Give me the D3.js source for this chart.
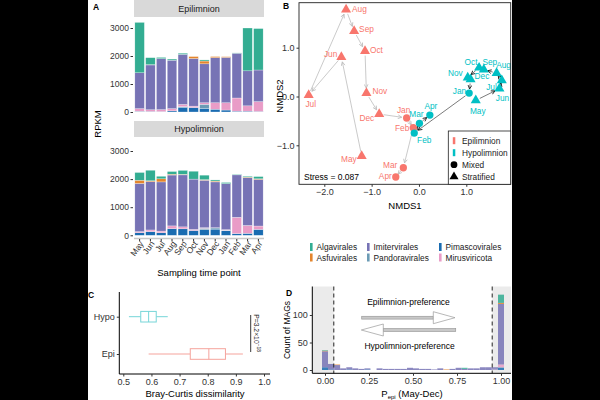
<!DOCTYPE html>
<html>
<head>
<meta charset="utf-8">
<script src="https://cdn.jsdelivr.net/npm/d3@7"></script>
<style>
  body { margin: 0; background: #000; }
  svg { display: block; font-family: "Liberation Sans", Arial, sans-serif; }
</style>
</head>
<body>
<svg id="fig" width="600" height="400"></svg>
<script>
// ---- data ----
const months = ["May", "Jun", "Jul", "Aug", "Sep", "Oct", "Nov", "Dec", "Jan", "Feb", "Mar", "Apr"];
const orders = ["Algavirales", "Asfuvirales", "Imitervirales", "Pandoravirales", "Pimascovirales", "Mirusviricota"];
// stacking order, bottom to top
const stackOrder = ["Pimascovirales", "Pandoravirales", "Mirusviricota", "Imitervirales", "Asfuvirales", "Algavirales"];

// RPKM, Epilimnion
const epiPimasco = [20, 20, 15, 40, 170, 160, 130, 100, 70, 30, 30, 20];
const epiPandora = [10, 0, 0, 0, 20, 0, 145, 0, 0, 0, 0, 0];
const epiMiru = [90, 60, 70, 80, 80, 50, 55, 230, 260, 470, 190, 350];
const epiImiter = [1280, 1600, 1820, 1730, 1790, 1700, 1390, 1610, 1620, 1600, 1250, 1130];
const epiAsfu = [0, 10, 0, 0, 0, 70, 100, 40, 25, 0, 0, 0];
const epiAlga = [1800, 250, 45, 40, 40, 0, 40, 0, 0, 10, 1530, 1480];
// RPKM, Hypolimnion
const hypoPimasco = [90, 130, 90, 235, 230, 170, 200, 220, 160, 60, 70, 210];
const hypoPandora = [0, 0, 0, 0, 0, 0, 50, 40, 20, 0, 0, 0];
const hypoMiru = [40, 60, 60, 100, 70, 40, 20, 10, 20, 580, 280, 120];
const hypoImiter = [1715, 1720, 1750, 1810, 1850, 1790, 1690, 1630, 1640, 1510, 1700, 1660];
const hypoAsfu = [115, 30, 110, 30, 20, 0, 20, 30, 0, 0, 20, 20];
const hypoAlga = [275, 375, 90, 95, 140, 280, 160, 40, 40, 20, 30, 80];

// NMDS coordinates (months in same order)
const epiNmds1 = [-1.21, -1.64, -2.33, -1.54, -1.37, -1.14, -1.11, -0.84, -0.26, -0.12, -0.33, -0.49];
const epiNmds2 = [-1.22, 0.81, 0.03, 1.78, 1.34, 0.93, 0.07, -0.36, -0.44, -0.64, -1.46, -1.65];
const hypoNmds1 = [1.20, 1.70, 1.75, 1.64, 1.37, 1.27, 1.03, 1.09, 1.06, -0.10, 0.01, 0.23];
const hypoNmds2 = [-0.08, 0.16, 0.33, 0.48, 0.55, 0.59, 0.39, 0.35, 0.07, -0.75, -0.55, -0.38];
const mixedMonths = ["Jan", "Feb", "Mar", "Apr"];
const stress = 0.087;

// Bray-Curtis boxplots: whisker low, q1, median, q3, whisker high
const layers = ["Hypo", "Epi"];
const brayHypo = [0.52, 0.562, 0.59, 0.617, 0.658];
const brayEpi = [0.59, 0.738, 0.804, 0.863, 0.925];
const pLabel = "P=3.2×10";
const pExp = "−18";

// P_epi histogram (30 bins), counts of MAGs per order
const binCenters = [0.000, 0.034, 0.069, 0.103, 0.138, 0.172, 0.207, 0.241, 0.276, 0.310,
  0.345, 0.379, 0.414, 0.448, 0.483, 0.517, 0.552, 0.586, 0.621, 0.655,
  0.690, 0.724, 0.759, 0.793, 0.828, 0.862, 0.897, 0.931, 0.966, 1.000];
const histPimasco = [5, 1, 0, 0, 1, 0, 0, 1, 0, 0, 0, 0, 0, 0, 0, 0, 0, 0, 0, 0, 0, 0, 0, 0, 0, 0, 0, 0, 1, 4];
const histPandora = [0, 0, 0, 0, 0, 0, 0, 0, 0, 0, 0, 0, 0, 0, 0, 0, 0, 0, 0, 0, 0, 0, 0, 0, 0, 0, 0, 0, 0, 1];
const histMiru = [0, 0, 0, 0, 0, 0, 0, 0, 0, 0, 0, 0, 0, 0, 0, 0, 0, 0, 0, 0, 0, 0, 0, 0, 0, 0, 0, 0, 1, 5];
const histImiter = [29, 10, 9, 3, 4, 3, 2, 2, 0, 3, 2, 2, 2, 2, 4, 3, 2, 2, 1, 3, 0, 2, 4, 2, 3, 3, 5, 5, 3, 110];
const histAsfu = [1, 0, 1, 0, 0, 0, 0, 0, 0, 0, 0, 0, 0, 0, 0, 0, 0, 0, 0, 0, 1, 0, 0, 0, 0, 0, 0, 0, 0, 2];
const histAlga = [1, 0, 0, 0, 0, 0, 0, 0, 0, 0, 0, 0, 0, 0, 0, 0, 0, 0, 0, 0, 0, 0, 0, 2, 0, 0, 0, 0, 0, 15];
const prefCut = [0.05, 0.95];

// ---- styles ----
const orderColor = {
  Algavirales: "#33ad92", Asfuvirales: "#e4852c", Imitervirales: "#7773b5",
  Pandoravirales: "#6b9bb5", Pimascovirales: "#1a6cb1", Mirusviricota: "#e99cc7"
};
const EPI = "#f8766d", HYPO = "#00bfc4";
const txt = "#333";

const svg = d3.select("#fig");
svg.append("rect").attr("x", 88).attr("y", 0).attr("width", 424).attr("height", 400).attr("fill", "#fff");

function panelLabel(t, x, y) {
  svg.append("text").attr("x", x).attr("y", y).text(t)
    .attr("font-size", 8.5).attr("font-weight", "bold").attr("fill", "#000");
}
function styleAxis(g, size) {
  g.selectAll("text").attr("fill", txt).attr("font-size", size || 9).attr("font-family", "Liberation Sans, Arial, sans-serif");
  g.selectAll("line").attr("stroke", txt);
}

// ================= A =================
panelLabel("A", 93, 10);
const xA = d3.scaleBand().domain(months).range([134, 264]).paddingInner(0.12).paddingOuter(0.08);
const facets = [
  { name: "Epilimnion", strip: [0, 17], y: d3.scaleLinear().domain([0, 3000]).range([112, 28]),
    vals: { Pimascovirales: epiPimasco, Pandoravirales: epiPandora, Mirusviricota: epiMiru,
      Imitervirales: epiImiter, Asfuvirales: epiAsfu, Algavirales: epiAlga } },
  { name: "Hypolimnion", strip: [121, 137], y: d3.scaleLinear().domain([0, 3000]).range([235.3, 151]),
    vals: { Pimascovirales: hypoPimasco, Pandoravirales: hypoPandora, Mirusviricota: hypoMiru,
      Imitervirales: hypoImiter, Asfuvirales: hypoAsfu, Algavirales: hypoAlga } }
];
facets.forEach((f, fi) => {
  svg.append("rect").attr("x", 134).attr("y", f.strip[0]).attr("width", 130)
    .attr("height", f.strip[1] - f.strip[0]).attr("fill", "#d9d9d9");
  svg.append("text").attr("x", 199).attr("y", (f.strip[0] + f.strip[1]) / 2 + 3.3)
    .attr("text-anchor", "middle").attr("font-size", 9).attr("fill", "#1a1a1a").text(f.name);

  const rows = months.map((m, i) => {
    const r = { month: m };
    stackOrder.forEach(o => r[o] = f.vals[o][i]);
    return r;
  });
  const series = d3.stack().keys(stackOrder)(rows);
  svg.append("g").selectAll("g").data(series).join("g")
    .attr("fill", d => orderColor[d.key])
    .selectAll("rect").data(d => d).join("rect")
    .attr("x", d => xA(d.data.month)).attr("width", xA.bandwidth())
    .attr("y", d => f.y(d[1])).attr("height", d => f.y(d[0]) - f.y(d[1]))
    .attr("stroke", "#fff").attr("stroke-width", 0.4).attr("stroke-opacity", 0.7);

  const ay = svg.append("g").attr("transform", "translate(133,0)")
    .call(d3.axisLeft(f.y).tickValues([0, 1000, 2000, 3000]).tickFormat(d3.format("d")).tickSize(2.5).tickPadding(1.5));
  ay.select(".domain").remove();
  styleAxis(ay, 8.5);

  if (fi === 1) {
    svg.append("line").attr("x1", 134).attr("x2", 264).attr("y1", 238.5).attr("y2", 238.5)
      .attr("stroke", "#c8c8c8").attr("stroke-width", 1.5);
    const ax = svg.append("g").attr("transform", "translate(0,239)")
      .call(d3.axisBottom(xA).tickSize(2.5).tickPadding(2));
    ax.select(".domain").remove();
    styleAxis(ax, 8.5);
    ax.selectAll("text").attr("text-anchor", "end")
      .attr("transform", "translate(2,3) rotate(-55)").attr("dy", "0.35em").attr("y", 0).attr("x", 0);
  }
});
svg.append("text").attr("x", 199).attr("y", 276).attr("text-anchor", "middle")
  .attr("font-size", 9.5).attr("fill", "#000").text("Sampling time point");
svg.append("text").attr("transform", "translate(101,124) rotate(-90)").attr("text-anchor", "middle")
  .attr("font-size", 9.5).attr("fill", "#000").text("RPKM");

// order legend
const legPos = [[310, 247], [310, 257.5], [367, 247], [367, 257.5], [439, 247], [439, 257.5]];
orders.forEach((o, i) => {
  const [lx, ly] = legPos[i];
  svg.append("rect").attr("x", lx).attr("y", ly - 4).attr("width", 2.6).attr("height", 8).attr("fill", orderColor[o]);
  svg.append("text").attr("x", lx + 6.5).attr("y", ly + 3).attr("font-size", 8.3).attr("fill", "#1a1a1a").text(o);
});

// ================= B =================
panelLabel("B", 283, 9);
const xB = d3.scaleLinear().domain([-2, 1]).range([324.3, 466.3]);
const yB = d3.scaleLinear().domain([-1, 1]).range([145.3, 47.7]);
const bL = 299, bR = 510.7, bT = 2.7, bBt = 184.3;

const defs = svg.append("defs");
[["arrGrey", "#bdbdbd"], ["arrBlack", "#111"]].forEach(([id, c]) => {
  defs.append("marker").attr("id", id).attr("viewBox", "0 0 8 8").attr("refX", 7).attr("refY", 4)
    .attr("markerWidth", 5).attr("markerHeight", 5).attr("markerUnits", "userSpaceOnUse").attr("orient", "auto")
    .append("path").attr("d", "M1,1 L7,4 L1,7").attr("fill", "none").attr("stroke", c).attr("stroke-width", 1.3);
});

const groups = [
  { name: "Epilimnion", col: EPI, xs: epiNmds1, ys: epiNmds2, arr: "arrGrey", lc: "#c4c4c4", lw: 0.9 },
  { name: "Hypolimnion", col: HYPO, xs: hypoNmds1, ys: hypoNmds2, arr: "arrBlack", lc: "#222", lw: 0.6 }
];
// label placement: [dx, dy, anchor]
const labelOff = {
  Epilimnion: {
    May: [-5, 3, "end"], Jun: [-4, -3, "end"], Jul: [2, 9, "middle"], Aug: [6, -1, "start"],
    Sep: [5, -2, "start"], Oct: [5, -1, "start"], Nov: [6, -2, "start"], Dec: [-5, 4, "end"],
    Jan: [-3, -8, "middle"], Feb: [-4, 0, "end"], Mar: [-6, -3, "end"], Apr: [-4, -1, "end"]
  },
  Hypolimnion: {
    May: [2, 11, "middle"], Jun: [3, 9, "middle"], Jul: [-5, 7, "end"], Aug: [7, -8, "middle"],
    Sep: [6, -8, "middle"], Oct: [-8, -6, "middle"], Nov: [-5, -4, "end"], Dec: [4, -3, "start"],
    Jan: [-3, -2, "end"], Feb: [10, 7, "middle"], Mar: [-3, -9, "middle"], Apr: [1, -9, "middle"]
  }
};

const gB = svg.append("g");
groups.forEach(g => {
  for (let i = 0; i < months.length - 1; i++) {
    const x1 = xB(g.xs[i]), y1 = yB(g.ys[i]), x2 = xB(g.xs[i + 1]), y2 = yB(g.ys[i + 1]);
    const len = Math.hypot(x2 - x1, y2 - y1);
    const s = Math.min(4.5, len * 0.3), e = Math.min(5, len * 0.3);
    const ux = (x2 - x1) / len, uy = (y2 - y1) / len;
    gB.append("line").attr("x1", x1 + ux * s).attr("y1", y1 + uy * s)
      .attr("x2", x2 - ux * e).attr("y2", y2 - uy * e)
      .attr("stroke", g.lc).attr("stroke-width", g.lw).attr("marker-end", `url(#${g.arr})`);
  }
});
groups.forEach(g => {
  months.forEach((m, i) => {
    const mixed = mixedMonths.includes(m);
    gB.append("path").attr("transform", `translate(${xB(g.xs[i])},${yB(g.ys[i])})`)
      .attr("d", d3.symbol(mixed ? d3.symbolCircle : d3.symbolTriangle, mixed ? 42 : 44)())
      .attr("fill", g.col);
  });
  months.forEach((m, i) => {
    const [dx, dy, anc] = labelOff[g.name][m];
    gB.append("text").attr("x", xB(g.xs[i]) + dx).attr("y", yB(g.ys[i]) + dy + 3)
      .attr("text-anchor", anc).attr("font-size", 8.3).attr("fill", g.col).text(m);
  });
});
svg.append("rect").attr("x", bL).attr("y", bT).attr("width", bR - bL).attr("height", bBt - bT)
  .attr("fill", "none").attr("stroke", "#222").attr("stroke-width", 0.9);
const bxAx = svg.append("g").attr("transform", `translate(0,${bBt})`)
  .call(d3.axisBottom(xB).tickValues([-2, -1, 0, 1]).tickSize(2.5).tickPadding(2));
bxAx.select(".domain").remove(); styleAxis(bxAx, 9);
const byAx = svg.append("g").attr("transform", `translate(${bL},0)`)
  .call(d3.axisLeft(yB).tickValues([-1, 0, 1]).tickSize(2.5).tickPadding(2));
byAx.select(".domain").remove(); styleAxis(byAx, 9);
svg.append("text").attr("x", 405).attr("y", 209).attr("text-anchor", "middle").attr("font-size", 9.5).text("NMDS1");
svg.append("text").attr("transform", "translate(283,96) rotate(-90)").attr("text-anchor", "middle")
  .attr("font-size", 9.5).text("NMDS2");
svg.append("text").attr("x", 304).attr("y", 180).attr("font-size", 8.5).attr("fill", "#000")
  .text("Stress = " + stress.toFixed(3));

// B legend
svg.append("rect").attr("x", 448.3).attr("y", 131).attr("width", bR - 448.3).attr("height", bBt - 131)
  .attr("fill", "#fff").attr("stroke", "#222").attr("stroke-width", 0.8);
const bLeg = [
  { t: "Epilimnion", k: "bar", c: EPI }, { t: "Hypolimnion", k: "bar", c: HYPO },
  { t: "Mixed", k: "circle", c: "#000" }, { t: "Stratified", k: "tri", c: "#000" }
];
bLeg.forEach((d, i) => {
  const ly = 140.7 + i * 12;
  if (d.k === "bar") svg.append("rect").attr("x", 452.8).attr("y", ly - 3.5).attr("width", 2.5).attr("height", 7).attr("fill", d.c);
  else svg.append("path").attr("transform", `translate(454,${ly})`)
    .attr("d", d3.symbol(d.k === "circle" ? d3.symbolCircle : d3.symbolTriangle, 36)()).attr("fill", d.c);
  svg.append("text").attr("x", 462).attr("y", ly + 3).attr("font-size", 8.3).attr("fill", "#1a1a1a").text(d.t);
});

// ================= C =================
panelLabel("C", 88, 298);
const xC = d3.scaleLinear().domain([0.5, 1.0]).range([123.3, 264]);
const yC = d3.scalePoint().domain(layers).range([316.7, 354]);
const boxes = [{ k: "Hypo", v: brayHypo, c: "#76d5d8" }, { k: "Epi", v: brayEpi, c: "#f5a39c" }];
boxes.forEach(b => {
  const cy = yC(b.k), h = 5.3;
  const g = svg.append("g").attr("stroke", b.c).attr("stroke-width", 1).attr("fill", "#fff");
  g.append("line").attr("x1", xC(b.v[0])).attr("x2", xC(b.v[1])).attr("y1", cy).attr("y2", cy);
  g.append("line").attr("x1", xC(b.v[3])).attr("x2", xC(b.v[4])).attr("y1", cy).attr("y2", cy);
  g.append("rect").attr("x", xC(b.v[1])).attr("y", cy - h).attr("width", xC(b.v[3]) - xC(b.v[1])).attr("height", 2 * h);
  g.append("line").attr("x1", xC(b.v[2])).attr("x2", xC(b.v[2])).attr("y1", cy - h).attr("y2", cy + h);
});
const cx = svg.append("g").attr("transform", "translate(0,374)")
  .call(d3.axisBottom(xC).tickValues([0.5, 0.6, 0.7, 0.8, 0.9, 1.0]).tickFormat(d3.format(".1f")).tickSize(2.5).tickPadding(2));
cx.select(".domain").attr("d", "M119.3,0H270");
styleAxis(cx, 9); cx.select(".domain").attr("stroke", "#000");
const cy = svg.append("g").attr("transform", "translate(119.3,0)")
  .call(d3.axisLeft(yC).tickSize(2.5).tickPadding(2));
cy.select(".domain").attr("d", "M0,292V374");
styleAxis(cy, 9); cy.select(".domain").attr("stroke", "#000");
svg.append("text").attr("x", 195).attr("y", 397).attr("text-anchor", "middle").attr("font-size", 9.5).text("Bray-Curtis dissimilarity");
svg.append("line").attr("x1", 250.7).attr("x2", 250.7).attr("y1", 315).attr("y2", 352).attr("stroke", "#222").attr("stroke-width", 0.9);
const pt = svg.append("text").attr("transform", "translate(254,333) rotate(90)").attr("text-anchor", "middle")
  .attr("font-size", 6.8).attr("fill", "#222");
pt.append("tspan").text(pLabel);
pt.append("tspan").attr("dy", -2.5).attr("font-size", 4.8).text(pExp);

// ================= D =================
panelLabel("D", 286, 296);
const xD = d3.scaleLinear().domain([0, 1]).range([325, 501]);
const yD = d3.scaleLinear().domain([0, 100]).range([370, 315]);
const dL = 312.3, dR = 511, dT = 286.5, dB = 373.3;
svg.append("rect").attr("x", dL).attr("y", dT).attr("width", xD(prefCut[0]) - dL).attr("height", dB - dT).attr("fill", "#ebebeb");
svg.append("rect").attr("x", xD(prefCut[1])).attr("y", dT).attr("width", dR - xD(prefCut[1])).attr("height", dB - dT).attr("fill", "#ebebeb");

const histVals = { Pimascovirales: histPimasco, Pandoravirales: histPandora, Mirusviricota: histMiru,
  Imitervirales: histImiter, Asfuvirales: histAsfu, Algavirales: histAlga };
const hRows = binCenters.map((b, i) => {
  const r = { bin: b };
  stackOrder.forEach(o => r[o] = histVals[o][i]);
  return r;
});
const binW = xD(binCenters[1]) - xD(binCenters[0]);
svg.append("g").selectAll("g").data(d3.stack().keys(stackOrder)(hRows)).join("g")
  .attr("fill", d => orderColor[d.key]).attr("fill-opacity", 0.85)
  .selectAll("rect").data(d => d).join("rect")
  .attr("x", d => xD(d.data.bin) - binW / 2).attr("width", binW)
  .attr("y", d => yD(d[1])).attr("height", d => yD(d[0]) - yD(d[1]));

prefCut.forEach(p => {
  svg.append("line").attr("x1", xD(p)).attr("x2", xD(p)).attr("y1", dT).attr("y2", dB)
    .attr("stroke", "#222").attr("stroke-width", 1).attr("stroke-dasharray", "4,3");
});
// preference arrows
const arrG = svg.append("g").attr("fill", "#fff").attr("stroke", "#9a9a9a").attr("stroke-width", 0.7);
arrG.append("rect").attr("x", 361.7).attr("y", 316.3).attr("width", 71.6).attr("height", 2.8).attr("fill", "#c8c8c8");
arrG.append("path").attr("d", "M433.3,311.7 L455,317.7 L433.3,323.7 Z");
arrG.append("rect").attr("x", 383.3).attr("y", 328.6).attr("width", 72.4).attr("height", 2.8).attr("fill", "#c8c8c8");
arrG.append("path").attr("d", "M383.3,324 L361.3,330 L383.3,336 Z");
svg.append("text").attr("x", 408.5).attr("y", 305).attr("text-anchor", "middle").attr("font-size", 8.5).text("Epilimnion-preference");
svg.append("text").attr("x", 409.5).attr("y", 349).attr("text-anchor", "middle").attr("font-size", 8.5).text("Hypolimnion-preference");

const dx = svg.append("g").attr("transform", `translate(0,${dB})`)
  .call(d3.axisBottom(xD).tickValues([0, 0.25, 0.5, 0.75, 1]).tickFormat(d3.format(".2f")).tickSize(2.5).tickPadding(2));
dx.select(".domain").attr("d", `M${dL},0H${dR}`);
styleAxis(dx, 9); dx.select(".domain").attr("stroke", "#000");
const dy = svg.append("g").attr("transform", `translate(${dL},0)`)
  .call(d3.axisLeft(yD).tickValues([0, 50, 100]).tickSize(2.5).tickPadding(2));
dy.select(".domain").attr("d", `M0,${dT}V${dB}`);
styleAxis(dy, 9); dy.select(".domain").attr("stroke", "#000");
svg.append("text").attr("transform", "translate(290,330) rotate(-90)").attr("text-anchor", "middle")
  .attr("font-size", 8.5).text("Count of MAGs");
const pl = svg.append("text").attr("x", 412).attr("y", 397).attr("text-anchor", "middle").attr("font-size", 9.5);
pl.append("tspan").text("P");
pl.append("tspan").attr("font-size", 6).attr("dy", 2).text("epi");
pl.append("tspan").attr("dy", -2).text(" (May-Dec)");
</script>
</body>
</html>
